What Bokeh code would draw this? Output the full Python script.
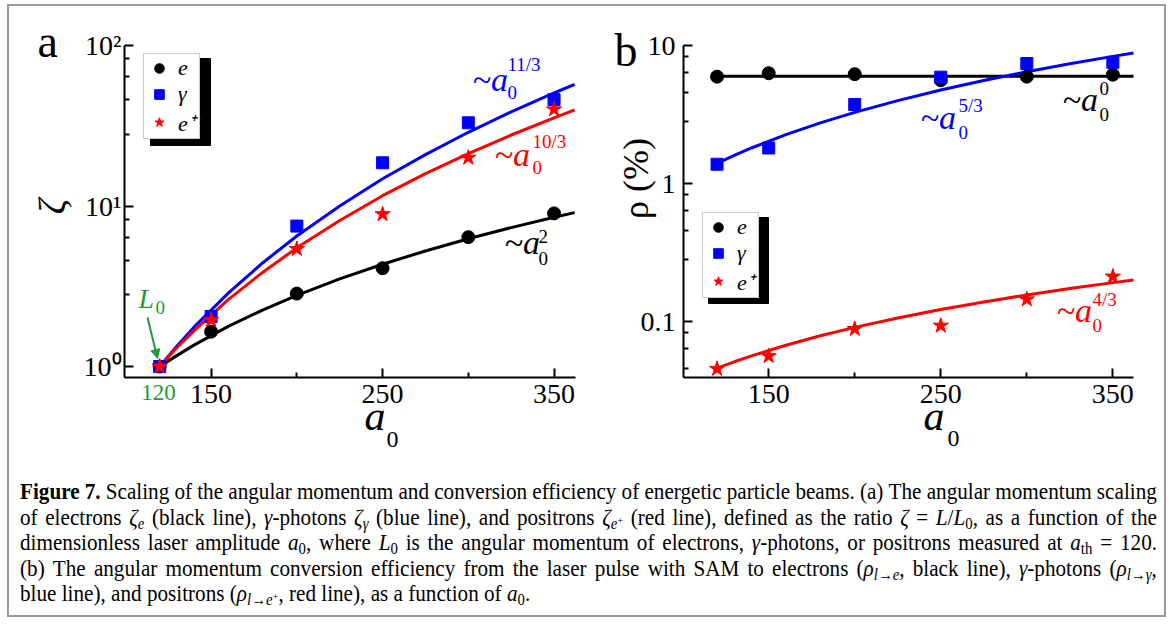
import math
from bokeh.plotting import figure
from bokeh.models import (Range1d, FixedTicker, Label, Legend, LegendItem,
                          Arrow, NormalHead, Div)
from bokeh.layouts import row, column
from bokeh.embed import file_html
from bokeh.resources import INLINE

# ---------------- data ----------------
a0_pts = [120, 150, 200, 250, 300, 350]
zeta_e = [1.0, 1.65, 2.85, 4.1, 6.4, 9.0]
zeta_g = [1.0, 2.05, 7.5, 18.6, 33.0, 46.0]
zeta_p = [1.0, 1.95, 5.4, 8.9, 20.0, 40.0]

a0_fit = [120, 130, 140, 160, 180, 200, 225, 250, 275, 300, 325, 350, 362]
zeta_e_fit = [1.00, 1.17, 1.36, 1.78, 2.25, 2.78, 3.52, 4.34, 5.25, 6.25, 7.34, 8.51, 9.10]
zeta_g_fit = [1.00, 1.34, 1.76, 2.87, 4.42, 6.51, 10.0, 14.8, 20.9, 28.8, 38.6, 50.6, 57.3]
zeta_p_fit = [1.00, 1.31, 1.67, 2.61, 3.86, 5.49, 8.13, 11.6, 15.9, 21.2, 27.7, 35.4, 39.7]

rho_e = [5.95, 6.3, 6.2, 5.6, 5.95, 6.15]
rho_g = [1.38, 1.81, 3.74, 5.9, 7.4, 7.55]
rho_p = [0.0455, 0.0563, 0.0885, 0.0935, 0.145, 0.212]
rho_e_fit = [6.0, 6.0, 6.0, 6.0, 6.0, 6.0, 6.0, 6.0, 6.0, 6.0, 6.0, 6.0, 6.0]
rho_g_fit = [1.40, 1.60, 1.81, 2.26, 2.75, 3.28, 3.99, 4.76, 5.58, 6.45, 7.37, 8.34, 8.82]
rho_p_fit = [0.0460, 0.0512, 0.0565, 0.0675, 0.0790, 0.0909, 0.1064, 0.1224,
             0.1390, 0.1561, 0.1737, 0.1917, 0.2005]

x_ticks = [150, 250, 350]
x_minor = [200, 300]
a_yticks = [1, 10, 100]
a_ylabels = {1: "10\u2070", 10: "10\u00b9", 100: "10\u00b2"}
a_yminor = [2.8, 4.6, 6.4, 8.3, 28, 46, 64, 83]
b_yticks = [0.1, 1, 10]
b_ylabels = {0.1: "0.1", 1: "1", 10: "10"}
b_yminor = [0.046, 0.064, 0.083, 0.28, 0.46, 0.64, 0.83, 2.8, 4.6, 6.4, 8.3]
legend_labels = ["e", "\u03b3", "e\u207a"]

SERIF = "Liberation Serif"
GREEN = "#1f9a3c"
BLUE = "#0000ff"
RED = "#ff0000"

# ---------------- layout geometry (screen px) ----------------
A_AXR, A_AYR = (99.5, 362.5), (0.855, 100.0)     # axis extents of panel a
B_AXR, B_AYR = (100.5, 362.0), (0.0394, 10.0)     # axis extents of panel b
A_BOX, A_CANVAS = (124, 45, 575, 377), (9, 6, 606, 455)
B_BOX, B_CANVAS = (683, 45, 1133, 377), (606, 6, 1164, 455)


def build_map(axr, ayr, box, canvas):
    bl, bt, br, bb = box
    ppx = (br - bl) / (axr[1] - axr[0])
    lo, hi = math.log10(ayr[0]), math.log10(ayr[1])
    ppd = (bb - bt) / (hi - lo)
    fx = lambda px: axr[0] + (px - bl) / ppx
    fy = lambda py: 10 ** (hi - (py - bt) / ppd)
    return fx, fy, (fx(canvas[0]), fx(canvas[2])), (fy(canvas[3]), fy(canvas[1]))


ax_, ay_, A_XR, A_YR = build_map(A_AXR, A_AYR, A_BOX, A_CANVAS)
bx_, by_, B_XR, B_YR = build_map(B_AXR, B_AYR, B_BOX, B_CANVAS)


def make_panel(xr, yr, axr, ayr, canvas, yticks, yminor, ylabels, ystandoff):
    p = figure(width=canvas[2] - canvas[0], height=canvas[3] - canvas[1],
               x_range=Range1d(*xr), y_range=Range1d(*yr), y_axis_type="log",
               output_backend="svg", toolbar_location=None,
               min_border_left=0, min_border_right=0,
               min_border_top=0, min_border_bottom=0)
    p.outline_line_color = None
    p.xgrid.visible = False
    p.ygrid.visible = False
    p.background_fill_color = "white"
    p.border_fill_color = "white"
    p.xaxis.ticker = FixedTicker(ticks=x_ticks, minor_ticks=x_minor)
    p.yaxis.ticker = FixedTicker(ticks=yticks, minor_ticks=yminor)
    p.yaxis.major_label_overrides = ylabels
    p.xaxis.fixed_location = ayr[0]
    p.xaxis.bounds = axr
    p.yaxis.fixed_location = axr[0]
    p.yaxis.bounds = ayr
    for axis in (p.xaxis[0], p.yaxis[0]):
        axis.axis_line_width = 2
        axis.major_tick_line_width = 2
        axis.minor_tick_line_width = 2
        axis.major_tick_in = 9
        axis.major_tick_out = 0
        axis.minor_tick_in = 5
        axis.minor_tick_out = 0
        axis.major_label_text_font = SERIF
        axis.major_label_text_font_size = "28px"
        axis.major_label_text_color = "black"
    p.xaxis.major_label_standoff = 7
    p.yaxis.major_label_standoff = ystandoff
    return p


def lab(p, fx, fy, text, px, py, size, style="normal", color="black",
        align="left", baseline="alphabetic", angle=0.0):
    if baseline == "alphabetic":
        # anchor on the middle of the text box, 0.3375 em above the baseline
        py = py - 0.3375 * size
        baseline = "middle"
    p.add_layout(Label(x=fx(px), y=fy(py), text=text, text_font=SERIF,
                       text_font_size=f"{size}px", text_font_style=style,
                       text_color=color, text_align=align,
                       text_baseline=baseline, angle=angle))


def power_label(p, fx, fy, px, py, sup, supx, supy, subx, suby, color):
    lab(p, fx, fy, "~a", px, py, 34, "italic", color)
    lab(p, fx, fy, sup, supx, supy, 19, "normal", color)
    lab(p, fx, fy, "0", subx, suby, 19, "normal", color)


def add_legend(p, rends, lx, ly):
    leg = Legend(items=[LegendItem(label=t, renderers=[r]) for t, r in zip(legend_labels, rends)],
                 location=(lx, ly), orientation="vertical",
                 label_text_font=SERIF, label_text_font_size="22px",
                 label_text_font_style="italic", label_text_color="black",
                 glyph_width=28, glyph_height=24, label_height=24,
                 label_standoff=5, padding=1, spacing=0, margin=0,
                 border_line_color="#9a9a9a", border_line_width=1,
                 background_fill_color="white", background_fill_alpha=1.0)
    p.add_layout(leg)


# ---------------- panel a ----------------
pa = make_panel(A_XR, A_YR, A_AXR, A_AYR, A_CANVAS, a_yticks, a_yminor, a_ylabels, 3)
pa.quad(left=ax_(150), right=ax_(210), top=ay_(58), bottom=ay_(145), color="black")
pa.line(a0_fit, zeta_e_fit, line_color="black", line_width=3)
pa.line(a0_fit, zeta_g_fit, line_color=BLUE, line_width=3)
pa.line(a0_fit, zeta_p_fit, line_color=RED, line_width=3)
ra_e = pa.scatter(a0_pts, zeta_e, marker="circle", size=13, color="black")
ra_g = pa.scatter(a0_pts, zeta_g, marker="square", size=12, color=BLUE)
ra_p = pa.scatter(a0_pts, zeta_p, marker="star", size=16, color=RED)
add_legend(pa, [ra_e, ra_g, ra_p], 143 - A_CANVAS[0], A_CANVAS[3] - 139)

lab(pa, ax_, ay_, "a", 37, 57, 46)
lab(pa, ax_, ay_, "\u03b6", 51, 206, 38, "italic", align="center", baseline="middle",
    angle=math.pi / 2)
lab(pa, ax_, ay_, "a", 364, 430, 42, "italic")
lab(pa, ax_, ay_, "0", 386, 447, 24)
lab(pa, ax_, ay_, "120", 158, 400, 23, color=GREEN, align="center")
lab(pa, ax_, ay_, "L", 138, 307, 28, "italic", GREEN)
lab(pa, ax_, ay_, "0", 155, 313, 19, "normal", GREEN)
pa.add_layout(Arrow(end=NormalHead(size=9, fill_color=GREEN, line_color=GREEN, line_width=1),
                    x_start=ax_(147), y_start=ay_(317), x_end=ax_(157), y_end=ay_(358),
                    line_color=GREEN, line_width=2))
power_label(pa, ax_, ay_, 472, 90, "11/3", 507, 70, 507, 98, BLUE)
power_label(pa, ax_, ay_, 494, 165, "10/3", 532, 147, 532, 173, RED)
power_label(pa, ax_, ay_, 504, 253, "2", 538, 242, 538, 264, "black")

# ---------------- panel b ----------------
pb = make_panel(B_XR, B_YR, B_AXR, B_AYR, B_CANVAS, b_yticks, b_yminor, b_ylabels, 8)
pb.quad(left=bx_(708), right=bx_(768), top=by_(217), bottom=by_(303), color="black")
pb.line(a0_fit, rho_e_fit, line_color="black", line_width=3)
pb.line(a0_fit, rho_g_fit, line_color=BLUE, line_width=3)
pb.line(a0_fit, rho_p_fit, line_color=RED, line_width=3)
rb_e = pb.scatter(a0_pts, rho_e, marker="circle", size=13, color="black")
rb_g = pb.scatter(a0_pts, rho_g, marker="square", size=12, color=BLUE)
rb_p = pb.scatter(a0_pts, rho_p, marker="star", size=16, color=RED)
add_legend(pb, [rb_e, rb_g, rb_p], 702 - B_CANVAS[0], B_CANVAS[3] - 298)

lab(pb, bx_, by_, "b", 614, 66, 46)
lab(pb, bx_, by_, "\u03c1 (%)", 635, 178, 36, angle=math.pi / 2, align="center",
    baseline="middle")
lab(pb, bx_, by_, "a", 923, 430, 42, "italic")
lab(pb, bx_, by_, "0", 947, 446, 24)
power_label(pb, bx_, by_, 1062, 110, "0", 1099, 94, 1099, 120, "black")
power_label(pb, bx_, by_, 920, 128, "5/3", 958, 111, 958, 138, BLUE)
power_label(pb, bx_, by_, 1056, 321, "4/3", 1092, 305, 1092, 331, RED)


# ---------------- caption ----------------
def sub(t):
    return f'<sub style="font-size:70%;line-height:0;vertical-align:-0.25em">{t}</sub>'


def sup(t):
    return f'<sup style="font-size:70%;line-height:0;vertical-align:0.45em">{t}</sup>'


cap_lines = [
    "<b>Figure</b> <b>7.</b> Scaling of the angular momentum and conversion efficiency of energetic "
    "particle beams. (a) The angular momentum scaling",
    "of electrons <i>\u03b6</i>" + sub("<i>e</i>") + " (black line), <i>\u03b3</i>-photons <i>\u03b6</i>"
    + sub("<i>\u03b3</i>") + " (blue line), and positrons <i>\u03b6</i>" + sub("<i>e</i>" + sup("+"))
    + " (red line), defined as the ratio <i>\u03b6</i> = <i>L</i>/<i>L</i>" + sub("0")
    + ", as a function of the",
    "dimensionless laser amplitude <i>a</i>" + sub("0") + ", where <i>L</i>" + sub("0")
    + " is the angular momentum of electrons, <i>\u03b3</i>-photons, or positrons measured at <i>a</i>"
    + sub("th") + " = 120.",
    "(b) The angular momentum conversion efficiency from the laser pulse with SAM to electrons (<i>\u03c1</i>"
    + sub("<i>l</i>\u2192<i>e</i>") + ", black line), <i>\u03b3</i>-photons (<i>\u03c1</i>"
    + sub("<i>l</i>\u2192<i>\u03b3</i>") + ",",
    "blue line), and positrons (<i>\u03c1</i>" + sub("<i>l</i>\u2192<i>e</i>" + sup("+"))
    + ", red line), as a function of <i>a</i>" + sub("0") + ".",
]


def words(html_line):
    out, cur, depth = [], "", 0
    for ch in html_line:
        if ch == "<":
            depth += 1
        elif ch == ">":
            depth -= 1
        if ch == " " and depth == 0:
            if cur:
                out.append(cur)
            cur = ""
        else:
            cur += ch
    if cur:
        out.append(cur)
    return out


SCALE = 0.92
TEXT_W = 1137
inner = ""
for i, ln in enumerate(cap_lines):
    if i < len(cap_lines) - 1:
        spans = "".join(f"<span>{w}</span>" for w in words(ln))
        inner += ('<div style="display:flex;justify-content:space-between;white-space:nowrap;'
                  f'height:25.5px;line-height:25.5px">{spans}</div>')
    else:
        inner += f'<div style="white-space:nowrap;height:25.5px;line-height:25.5px">{ln}</div>'
html = ('<div style="padding:24px 0 0 11px">'
        f'<div style="width:{TEXT_W / SCALE:.1f}px;transform:scaleX({SCALE});transform-origin:0 0;'
        "font-family:'Liberation Serif',serif;font-size:23px;color:#000\">"
        f'{inner}</div></div>')
caption = Div(text=html, width=1155, height=160,
              styles={"margin": "0", "padding": "0", "overflow": "hidden"})

layout = column(row(pa, pb), caption, margin=(4, 0, 0, 7),
                styles={"border": "2px solid #9a9a9a", "background": "white"})

open("out.html", "w").write(file_html(layout, INLINE))
